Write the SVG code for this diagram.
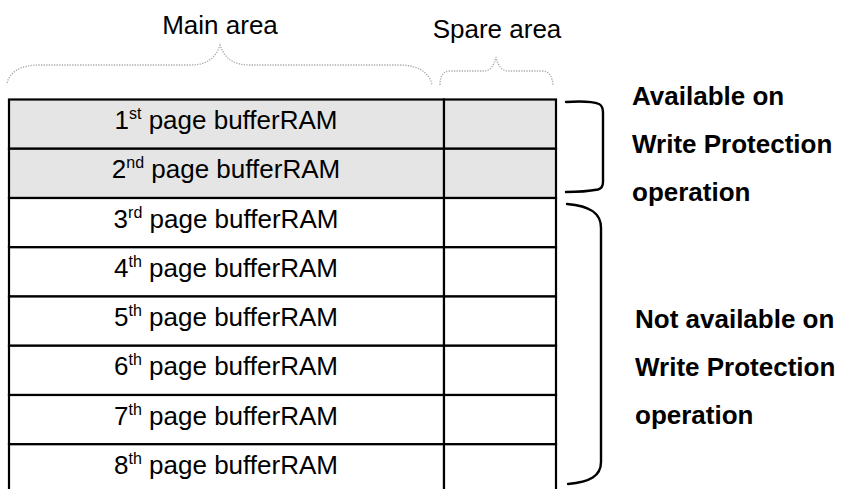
<svg xmlns="http://www.w3.org/2000/svg" width="842" height="489" viewBox="0 0 842 489">
  <style>
    .t { font-family: "Liberation Sans", Arial, sans-serif; font-size: 26px; fill: #000; }
    .b { font-family: "Liberation Sans", Arial, sans-serif; font-size: 26px; font-weight: bold; fill: #000; }
    .sup { font-size: 16px; }
    .cell { stroke: #000; stroke-width: 2.2; }
    .grey { fill: #e5e5e5; }
    .white { fill: #fff; }
    .dot { fill: none; stroke: #a8a8a8; stroke-width: 1.3; stroke-dasharray: 1.3 1.3; }
    .brace { fill: none; stroke: #000; stroke-width: 2.4; stroke-linecap: round; }
  </style>
  <rect width="842" height="489" fill="#fff"/>

  <g id="header-main">
    <text class="t" x="220" y="34" text-anchor="middle">Main area</text>
    <path class="dot" d="M7,83 C10,72 20,65 40,65 L190,65 C205,65 215,60 220,45 C225,60 235,65 250,65 L400,65 C418,65 430,73 432,85"/>
  </g>
  <g id="header-spare">
    <text class="t" x="497" y="38" text-anchor="middle">Spare area</text>
    <path class="dot" d="M440,85 C440,76 443,71 450,71 L484,71 C490,71 494,66 496,57 C498,66 502,71 508,71 L542,71 C549,71 552,76 553,85"/>
  </g>

  <g id="row1">
    <rect class="cell grey" x="9" y="99.5" width="435" height="49.25"/>
    <rect class="cell grey" x="444" y="99.5" width="112" height="49.25"/>
    <text class="t" x="226" y="129" text-anchor="middle">1<tspan class="sup" dy="-10">st</tspan><tspan dy="10"> page bufferRAM</tspan></text>
  </g>
  <g id="row2">
    <rect class="cell grey" x="9" y="148.75" width="435" height="49.25"/>
    <rect class="cell grey" x="444" y="148.75" width="112" height="49.25"/>
    <text class="t" x="226" y="178.25" text-anchor="middle">2<tspan class="sup" dy="-10">nd</tspan><tspan dy="10"> page bufferRAM</tspan></text>
  </g>
  <g id="row3">
    <rect class="cell white" x="9" y="198" width="435" height="49.25"/>
    <rect class="cell white" x="444" y="198" width="112" height="49.25"/>
    <text class="t" x="226" y="227.5" text-anchor="middle">3<tspan class="sup" dy="-10">rd</tspan><tspan dy="10"> page bufferRAM</tspan></text>
  </g>
  <g id="row4">
    <rect class="cell white" x="9" y="247.25" width="435" height="49.25"/>
    <rect class="cell white" x="444" y="247.25" width="112" height="49.25"/>
    <text class="t" x="226" y="276.75" text-anchor="middle">4<tspan class="sup" dy="-10">th</tspan><tspan dy="10"> page bufferRAM</tspan></text>
  </g>
  <g id="row5">
    <rect class="cell white" x="9" y="296.5" width="435" height="49.25"/>
    <rect class="cell white" x="444" y="296.5" width="112" height="49.25"/>
    <text class="t" x="226" y="326" text-anchor="middle">5<tspan class="sup" dy="-10">th</tspan><tspan dy="10"> page bufferRAM</tspan></text>
  </g>
  <g id="row6">
    <rect class="cell white" x="9" y="345.75" width="435" height="49.25"/>
    <rect class="cell white" x="444" y="345.75" width="112" height="49.25"/>
    <text class="t" x="226" y="375.25" text-anchor="middle">6<tspan class="sup" dy="-10">th</tspan><tspan dy="10"> page bufferRAM</tspan></text>
  </g>
  <g id="row7">
    <rect class="cell white" x="9" y="395" width="435" height="49.25"/>
    <rect class="cell white" x="444" y="395" width="112" height="49.25"/>
    <text class="t" x="226" y="424.5" text-anchor="middle">7<tspan class="sup" dy="-10">th</tspan><tspan dy="10"> page bufferRAM</tspan></text>
  </g>
  <g id="row8">
    <rect class="cell white" x="9" y="444.25" width="435" height="49.25"/>
    <rect class="cell white" x="444" y="444.25" width="112" height="49.25"/>
    <text class="t" x="226" y="473.75" text-anchor="middle">8<tspan class="sup" dy="-10">th</tspan><tspan dy="10"> page bufferRAM</tspan></text>
  </g>

  <g id="connectors">
    <path class="brace" d="M566,102 C582,101 594,102 599,104 Q603,106 603,113 L603,182 Q603,188 598,189.5 C590,191 578,192 566,192"/>
    <path class="brace" d="M567,204 C590,206 601,213 601,228 L601,462 C601,476 590,482 568,484"/>
  </g>

  <g id="label-available">
    <text class="b" x="632" y="105">Available on</text>
    <text class="b" x="632" y="153">Write Protection</text>
    <text class="b" x="632" y="201">operation</text>
  </g>
  <g id="label-not-available">
    <text class="b" x="635" y="328">Not available on</text>
    <text class="b" x="635" y="376">Write Protection</text>
    <text class="b" x="635" y="424">operation</text>
  </g>
</svg>
